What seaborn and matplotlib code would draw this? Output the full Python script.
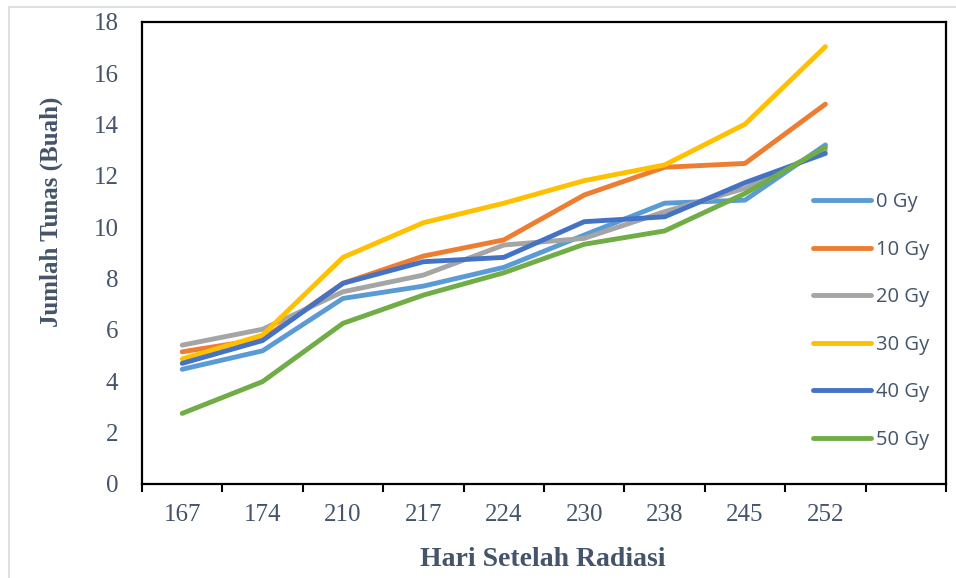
import matplotlib
matplotlib.use("Agg")
import matplotlib.pyplot as plt
from matplotlib.lines import Line2D
import numpy as np
import pandas as pd
import seaborn as sns

# Days after irradiation (category axis) and dose groups
days = ["167", "174", "210", "217", "224", "230", "238", "245", "252"]
doses = ["0 Gy", "10 Gy", "20 Gy", "30 Gy", "40 Gy", "50 Gy"]

# Mean number of shoots per dose group
gy0 = [4.47, 5.19, 7.23, 7.71, 8.44, 9.70, 10.94, 11.06, 13.21]
gy10 = [5.15, 5.65, 7.82, 8.88, 9.51, 11.26, 12.34, 12.49, 14.80]
gy20 = [5.41, 6.03, 7.49, 8.14, 9.31, 9.57, 10.61, 11.52, 13.01]
gy30 = [4.87, 5.80, 8.83, 10.18, 10.94, 11.82, 12.43, 14.02, 17.04]
gy40 = [4.70, 5.59, 7.82, 8.66, 8.83, 10.22, 10.41, 11.74, 12.88]
gy50 = [2.75, 3.99, 6.26, 7.36, 8.23, 9.34, 9.86, 11.32, 13.12]

colors = ["#5B9BD5", "#ED7D31", "#A5A5A5", "#FFC000", "#4472C4", "#70AD47"]
text_color = "#44546A"
serif = "Liberation Serif"

series = [gy0, gy10, gy20, gy30, gy40, gy50]
records = []
for dose, vals in zip(doses, series):
    for i, (d, v) in enumerate(zip(days, vals)):
        records.append({"pos": i, "day": d, "dose": dose, "shoots": v})
df = pd.DataFrame(records)

sns.set_style("white")
plt.rcParams["font.family"] = ["Open Sans", "DejaVu Sans"]

W, H = 956, 578
fig = plt.figure(figsize=(W / 100, H / 100), dpi=100)
fig.patch.set_facecolor("white")

# plot area in pixel terms
left, right, top, bottom = 142, 946, 22, 484
ax = fig.add_axes([left / W, 1 - bottom / H, (right - left) / W, (bottom - top) / H])

sns.lineplot(data=df, x="pos", y="shoots", hue="dose", hue_order=doses,
             palette=colors, linewidth=3.5, ax=ax, legend=True)
for ln in ax.lines:
    ln.set_solid_capstyle("round")
    ln.set_solid_joinstyle("round")

# category axis: boundaries carry tick marks, centres carry labels
n_slots = len(days) + 1
ax.set_xlim(-0.5, n_slots - 0.5)
ax.set_xticks(np.arange(-0.5, n_slots, 1.0))
ax.set_xticklabels([])
ax.set_xticks(np.arange(len(days)), minor=True)
ax.set_xticklabels(days, minor=True, fontfamily=serif, fontsize=18, color=text_color)
ax.tick_params(axis="x", which="major", direction="out", length=5.8, width=1.5,
               color="black", bottom=True)
ax.tick_params(axis="x", which="minor", length=0, pad=14.5)

ax.set_ylim(0, 18)
ax.set_yticks(np.arange(0, 19, 2))
ax.set_yticklabels([str(v) for v in range(0, 19, 2)], fontfamily=serif,
                   fontsize=18, color=text_color)
ax.tick_params(axis="y", length=0, pad=17)

ax.set_xlabel("")
ax.set_ylabel("")
for sp in ax.spines.values():
    sp.set_visible(True)
    sp.set_color("black")
    sp.set_linewidth(1.6)

# legend on the right side, no frame
handles, labels = ax.get_legend_handles_labels()
leg = ax.legend(handles, labels, loc="center left",
                bbox_to_anchor=(813 / W, 1 - 321 / H), bbox_transform=fig.transFigure,
                frameon=False, borderpad=0, borderaxespad=0, handlelength=2.9,
                handletextpad=0.25, labelspacing=1.37,
                prop={"family": ["Open Sans", "DejaVu Sans"], "size": 14.5})
for h in leg.get_lines():
    h.set_linewidth(3.5)
    h.set_solid_capstyle("round")
for t in leg.get_texts():
    t.set_color(text_color)

# axis titles
fig.text(543 / W, 1 - 560 / H, "Hari Setelah Radiasi", ha="center", va="center",
         fontsize=20, fontweight="bold", fontfamily=serif, color=text_color)
fig.text(51.5 / W, 1 - 212 / H, "Jumlah Tunas (Buah)", ha="center", va="center",
         rotation=90, fontsize=18, fontweight="bold", fontfamily=serif, color=text_color)

# thin outer frame
frame_kw = dict(transform=fig.transFigure, color="#DCE1E6", linewidth=1.4)
fig.add_artist(Line2D([8.5 / W, 8.5 / W], [0, 1 - 7 / H], **frame_kw))
fig.add_artist(Line2D([8.5 / W, 1], [1 - 7 / H, 1 - 7 / H], **frame_kw))

fig.savefig("out.png", dpi=100, facecolor="white")
